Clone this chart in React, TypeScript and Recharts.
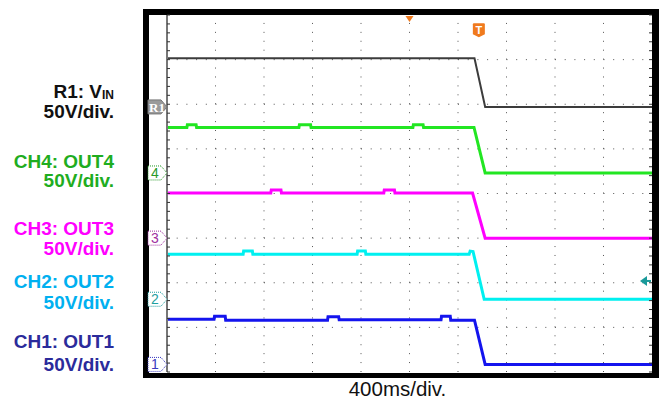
import React from 'react';
import { LineChart, Line, XAxis, YAxis, ReferenceLine, ReferenceDot } from 'recharts';

// time axis in divisions (400 ms/div), amplitude axis in divisions (50 V/div)
const X_DIVS = [1, 2, 3, 4, 5, 6, 7, 8, 9];
const Y_DIVS = [1, 2, 3, 4, 5, 6, 7];
const X_DOMAIN = [0, 10];
const Y_DOMAIN = [0, 8];

// R1: VIN (reference waveform)
const R1_T = [0, 6.34, 6.56, 10];
const R1_V = [7.03, 7.03, 5.94, 5.94];

// CH4: OUT4
const CH4_T = [0, 0.41, 0.42, 0.6, 0.61, 2.72, 2.73, 2.96, 2.97, 5.07, 5.08, 5.28, 5.29, 6.33, 6.56, 10];
const CH4_V = [5.48, 5.48, 5.54, 5.54, 5.48, 5.48, 5.54, 5.54, 5.48, 5.48, 5.54, 5.54, 5.48, 5.48, 4.46, 4.46];

// CH3: OUT3
const CH3_T = [0, 2.14, 2.15, 2.35, 2.36, 4.47, 4.48, 4.69, 4.7, 6.3, 6.56, 10];
const CH3_V = [4.01, 4.01, 4.08, 4.08, 4.01, 4.01, 4.08, 4.08, 4.01, 4.01, 3.0, 3.0];

// CH2: OUT2
const CH2_T = [0, 1.57, 1.58, 1.76, 1.77, 3.92, 3.93, 4.09, 4.1, 6.23, 6.25, 6.31, 6.54, 10];
const CH2_V = [2.64, 2.64, 2.71, 2.71, 2.64, 2.64, 2.71, 2.71, 2.64, 2.64, 2.71, 2.7, 1.63, 1.63];

// CH1: OUT1
const CH1_T = [0, 0.97, 0.98, 1.2, 1.21, 3.31, 3.32, 3.54, 3.55, 5.65, 5.66, 5.84, 5.85, 6.34, 6.56, 10];
const CH1_V = [1.18, 1.18, 1.25, 1.25, 1.16, 1.16, 1.24, 1.24, 1.17, 1.17, 1.25, 1.25, 1.16, 1.16, 0.17, 0.17];

// channel reference markers on the left edge
const MARKER_LABELS = ['R1', '4', '3', '2', '1'];
const MARKER_LEVELS = [5.94, 4.46, 3.0, 1.63, 0.17];
const MARKER_COLORS = ['#8a8a8a', '#2a9a2a', '#a030a0', '#1f9f9f', '#3a3ac0'];

// trigger markers
const TRIGGER_TIME = 6.43;
const TRIGGER_POS = 5;
const TRIGGER_LEVEL = 2.04;

// left-hand labels
const LABEL_TITLES = ['R1: V', 'CH4: OUT4', 'CH3: OUT3', 'CH2: OUT2', 'CH1: OUT1'];
const LABEL_SCALES = ['50V/div.', '50V/div.', '50V/div.', '50V/div.', '50V/div.'];
const LABEL_COLORS = ['#111111', '#1fad1f', '#ff00ff', '#00b0f0', '#2b2b9b'];
const TIME_LABEL = '400ms/div.';

const zip = (t: number[], v: number[]) => t.map((x, i) => ({ t: x, v: v[i] }));
const SERIES = [
  { data: zip(R1_T, R1_V), color: '#3c3c3c', width: 2 },
  { data: zip(CH4_T, CH4_V), color: '#22e622', width: 3 },
  { data: zip(CH3_T, CH3_V), color: '#ff00ff', width: 3 },
  { data: zip(CH2_T, CH2_V), color: '#00f0f0', width: 3 },
  { data: zip(CH1_T, CH1_V), color: '#1414ee', width: 3 },
];

const X_MINOR = Array.from({ length: 51 }, (_, i) => Math.round(i * 2) / 10);
const Y_MINOR = Array.from({ length: 41 }, (_, i) => Math.round(i * 2) / 10);

const LABEL_BASE = [
  [98, 118],
  [168, 187],
  [235, 255],
  [288, 309],
  [348, 371],
];

const FONT = '"Liberation Sans", Arial, sans-serif';
const noTick = () => <g />;

const MarkerShape = (idx: number) => (props: any) => {
  const { cx, cy } = props;
  const x0 = cx - 19;
  const x1 = cx - 6;
  const h = 7;
  const path = `M${x0},${cy - h} L${x1},${cy - h} L${cx},${cy} L${x1},${cy + h} L${x0},${cy + h} Z`;
  if (idx === 0) {
    return (
      <g>
        <path d={path} fill="#9a9a9a" stroke="#777" strokeWidth={1} />
        <text x={x0 + 1} y={cy + 5} fontFamily='"Liberation Serif", serif' fontWeight="bold" fontSize={13} fill="#ffffff">
          R1
        </text>
      </g>
    );
  }
  return (
    <g>
      <path d={path} fill="#ffffff" stroke={MARKER_COLORS[idx]} strokeWidth={1} strokeDasharray="1 1" />
      <text x={x0 + 3} y={cy + 5} fontFamily={FONT} fontSize={14} fill={MARKER_COLORS[idx]}>
        {MARKER_LABELS[idx]}
      </text>
    </g>
  );
};

const TriggerT = (props: any) => {
  const { cx, cy } = props;
  return (
    <g>
      <path
        d={`M${cx - 6},${cy - 6} Q${cx - 6},${cy - 7} ${cx - 5},${cy - 7} L${cx + 5},${cy - 7} Q${cx + 6},${cy - 7} ${cx + 6},${cy - 6} L${cx + 6},${cy + 4} L${cx},${cy + 7} L${cx - 6},${cy + 4} Z`}
        fill="#f07a1e"
      />
      <text x={cx} y={cy + 4} textAnchor="middle" fontFamily={FONT} fontWeight="bold" fontSize={11} fill="#ffffff">
        T
      </text>
    </g>
  );
};

const TriggerPos = (props: any) => {
  const { cx, cy } = props;
  return <path d={`M${cx - 4},${cy + 1} L${cx + 4},${cy + 1} L${cx},${cy + 7} Z`} fill="#f07a1e" />;
};

const TriggerLevel = (props: any) => {
  const { cx, cy } = props;
  return (
    <g>
      <path d={`M${cx - 12},${cy} L${cx - 5},${cy - 5} L${cx - 5},${cy + 5} Z`} fill="#1a9a9a" />
      <line x1={cx - 5} y1={cy} x2={cx - 1} y2={cy} stroke="#1a9a9a" strokeWidth={2} />
    </g>
  );
};

export default function App() {
  return (
    <div style={{ position: 'absolute', left: 0, top: 0, width: 659, height: 403, background: '#fff' }}>
      <div
        style={{
          position: 'absolute',
          left: 143,
          top: 9,
          width: 516,
          height: 369,
          boxSizing: 'border-box',
          borderStyle: 'solid',
          borderColor: '#000',
          borderWidth: '6px 7px 5px 6px',
        }}
      />
      <div style={{ position: 'absolute', left: 0, top: 0 }}>
        <LineChart width={659} height={403} margin={{ top: 15, right: 7, bottom: 31, left: 167 }}>
          <XAxis xAxisId={0} dataKey="t" type="number" domain={X_DOMAIN} allowDataOverflow hide />
          <YAxis yAxisId={0} type="number" domain={Y_DOMAIN} allowDataOverflow hide />
          <XAxis
            xAxisId="top"
            orientation="top"
            type="number"
            domain={X_DOMAIN}
            allowDataOverflow
            mirror
            height={4}
            ticks={X_MINOR}
            interval={0}
            tick={noTick}
            tickSize={3}
            axisLine={false}
            tickLine={{ stroke: '#333' }}
          />
          <XAxis
            xAxisId="bot"
            orientation="bottom"
            type="number"
            domain={X_DOMAIN}
            allowDataOverflow
            mirror
            height={4}
            ticks={X_MINOR}
            interval={0}
            tick={noTick}
            tickSize={3}
            axisLine={false}
            tickLine={{ stroke: '#333' }}
          />
          <YAxis
            yAxisId="left"
            orientation="left"
            type="number"
            domain={Y_DOMAIN}
            allowDataOverflow
            mirror
            width={4}
            ticks={Y_MINOR}
            interval={0}
            tick={noTick}
            tickSize={3}
            axisLine={{ stroke: '#777', strokeWidth: 2 }}
            tickLine={{ stroke: '#333' }}
          />
          <YAxis
            yAxisId="right"
            orientation="right"
            type="number"
            domain={Y_DOMAIN}
            allowDataOverflow
            mirror
            width={4}
            ticks={Y_MINOR}
            interval={0}
            tick={noTick}
            tickSize={3}
            axisLine={false}
            tickLine={{ stroke: '#333' }}
          />
          {X_DIVS.map((x) => (
            <ReferenceLine key={'vx' + x} x={x} stroke="#555" strokeWidth={1} strokeDasharray="1 7.925" />
          ))}
          {Y_DIVS.map((y) => (
            <ReferenceLine key={'hy' + y} y={y} stroke="#555" strokeWidth={1} strokeDasharray="1 8.7" />
          ))}
          {SERIES.map((s, i) => (
            <Line
              key={'s' + i}
              data={s.data}
              dataKey="v"
              type="linear"
              dot={false}
              activeDot={false}
              stroke={s.color}
              strokeWidth={s.width}
              isAnimationActive={false}
            />
          ))}
          {MARKER_LEVELS.map((lv, i) => (
            <ReferenceDot key={'m' + i} x={0} y={lv} r={1} ifOverflow="visible" shape={MarkerShape(i)} />
          ))}
          <ReferenceDot x={TRIGGER_TIME} y={7.66} r={1} ifOverflow="visible" shape={TriggerT} />
          <ReferenceDot x={TRIGGER_POS} y={8} r={1} ifOverflow="visible" shape={TriggerPos} />
          <ReferenceDot x={10} y={TRIGGER_LEVEL} r={1} ifOverflow="visible" shape={TriggerLevel} />
        </LineChart>
      </div>
      <svg width={659} height={403} style={{ position: 'absolute', left: 0, top: 0, pointerEvents: 'none' }}>
        {LABEL_TITLES.map((t, i) => (
          <g key={'lab' + i} fontFamily={FONT} fontWeight="bold" fontSize={19} fill={LABEL_COLORS[i]} textAnchor="end">
            <text x={114} y={LABEL_BASE[i][0]}>
              {t}
              {i === 0 ? (
                <tspan fontSize={12} dy={1}>
                  IN
                </tspan>
              ) : null}
            </text>
            <text x={114} y={LABEL_BASE[i][1]}>
              {LABEL_SCALES[i]}
            </text>
          </g>
        ))}
        <text x={397.5} y={396} textAnchor="middle" fontFamily={FONT} fontSize={20.5} fill="#111">
          {TIME_LABEL}
        </text>
      </svg>
    </div>
  );
}
